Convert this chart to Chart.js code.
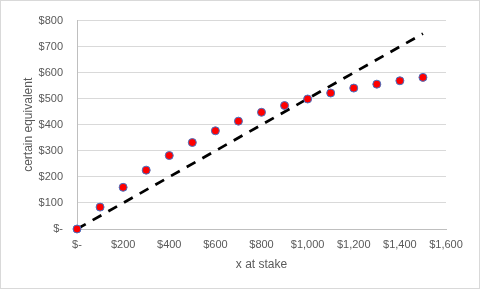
<!DOCTYPE html>
<html><head><meta charset="utf-8">
<script src="https://cdn.jsdelivr.net/npm/chart.js@4"></script>
<style>html,body{margin:0;padding:0;background:#fff}#w{width:480px;height:289px;position:relative}</style>
</head><body><div id="w"><canvas id="c" width="480" height="289"></canvas></div>
<script>
const stakes = [0,100,200,300,400,500,600,700,800,900,1000,1100,1200,1300,1400,1500];
const certainEquivalent = [0,84,160,226,282,332,377,414,448,474,499,522,541,556,569,582];
const refLineX = [0,1500];
const refLineY = [0,750];
const xTicks = [0,200,400,600,800,1000,1200,1400,1600];
const yTicks = [0,100,200,300,400,500,600,700,800];

const fmt = v => v === 0 ? '$-' : '$' + v.toLocaleString('en-US');
const tickColor = '#595959';
const font = {family: "'Liberation Sans', Arial, sans-serif", size: 11};

const borderPlugin = {
  id: 'outer',
  afterDraw(chart) {
    const ctx = chart.ctx;
    ctx.save();
    ctx.strokeStyle = '#d9d9d9';
    ctx.lineWidth = 1;
    ctx.strokeRect(0.5, 0.5, 479, 288);
    ctx.restore();
  }
};

new Chart(document.getElementById('c'), {
  type: 'scatter',
  data: {
    datasets: [
      {
        label: 'certain equivalent',
        data: stakes.map((x, i) => ({x, y: certainEquivalent[i]})),
        backgroundColor: '#FF0000',
        borderColor: '#4472C4',
        borderWidth: 1,
        pointRadius: 4,
        clip: false,
        order: 0
      },
      {
        label: 'reference',
        data: refLineX.map((x, i) => ({x, y: refLineY[i]})),
        showLine: true,
        borderColor: '#000000',
        borderWidth: 2.75,
        borderDash: [10, 8],
        pointRadius: 0,
        fill: false,
        clip: false,
        order: 1
      }
    ]
  },
  options: {
    responsive: false,
    animation: false,
    layout: {padding: {left: 0, right: 34, top: 15, bottom: 0}},
    plugins: {legend: {display: false}, tooltip: {enabled: false}},
    scales: {
      x: {
        type: 'linear', min: 0, max: 1600,
        afterBuildTicks: s => { s.ticks = xTicks.map(v => ({value: v})); },
        afterFit: s => { s.height = 60; },
        grid: {display: false, drawTicks: false},
        border: {display: true, color: '#bfbfbf', width: 1},
        ticks: {color: tickColor, font, padding: 9, callback: v => fmt(v), maxRotation: 0, autoSkip: false},
        title: {display: true, text: 'x at stake', color: tickColor, font: {family: font.family, size: 12}, padding: {top: 0, bottom: 17}}
      },
      y: {
        type: 'linear', min: 0, max: 800,
        afterBuildTicks: s => { s.ticks = yTicks.map(v => ({value: v})); },
        afterFit: s => { s.width = 77; },
        grid: {color: '#d9d9d9', drawTicks: false},
        border: {display: true, color: '#bfbfbf', width: 1},
        ticks: {color: tickColor, font, padding: 14, callback: v => fmt(v), autoSkip: false},
        title: {display: true, text: 'certain equivalent', color: tickColor, font: {family: font.family, size: 12}, padding: {top: 21, bottom: 0}}
      }
    }
  },
  plugins: [borderPlugin]
});
</script></body></html>
